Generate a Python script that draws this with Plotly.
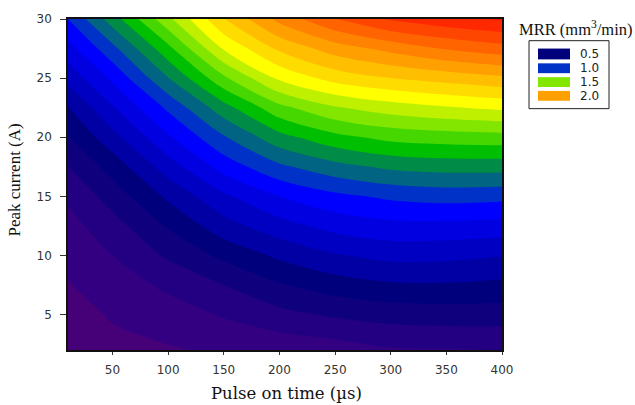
import plotly.graph_objects as go

pulse_on_time = [10, 50, 100, 150, 200, 250, 300, 350, 400]
peak_current = [2, 5, 7.5, 10, 12.5, 15, 17.5, 20, 22.5, 25, 27.5, 30]

mrr_i02 = [0.12, 0.135, 0.14, 0.165, 0.18, 0.20, 0.24, 0.245, 0.25]
mrr_i05 = [0.13, 0.155, 0.205, 0.26, 0.32, 0.365, 0.39, 0.40, 0.40]
mrr_i07 = [0.145, 0.20, 0.27, 0.35, 0.44, 0.50, 0.535, 0.54, 0.525]
mrr_i10 = [0.175, 0.25, 0.365, 0.475, 0.57, 0.64, 0.68, 0.675, 0.655]
mrr_i12 = [0.215, 0.31, 0.46, 0.61, 0.71, 0.785, 0.82, 0.82, 0.81]
mrr_i15 = [0.265, 0.395, 0.57, 0.73, 0.85, 0.925, 0.97, 0.99, 0.98]
mrr_i17 = [0.348, 0.49, 0.70, 0.89, 1.03, 1.115, 1.17, 1.19, 1.19]
mrr_i20 = [0.447, 0.615, 0.835, 1.04, 1.215, 1.32, 1.38, 1.40, 1.41]
mrr_i22 = [0.545, 0.74, 0.97, 1.21, 1.42, 1.54, 1.60, 1.64, 1.67]
mrr_i25 = [0.685, 0.87, 1.145, 1.43, 1.67, 1.79, 1.85, 1.89, 1.93]
mrr_i27 = [0.81, 1.02, 1.32, 1.66, 1.87, 2.0, 2.08, 2.16, 2.21]
mrr_i30 = [0.95, 1.20, 1.525, 1.845, 2.08, 2.245, 2.365, 2.42, 2.46]
mrr = [mrr_i02, mrr_i05, mrr_i07, mrr_i10, mrr_i12, mrr_i15,
       mrr_i17, mrr_i20, mrr_i22, mrr_i25, mrr_i27, mrr_i30]

band_colors = [
    "#460078", "#320080", "#230082", "#0f007d", "#00007d", "#0000a5", "#0000c3",
    "#0000e1", "#0000ff", "#0032c8", "#006482", "#008c46", "#00be00", "#46d700",
    "#82e600", "#bef000", "#ffff00", "#ffdc00", "#ffbe00", "#ffa000", "#ff8200",
    "#ff6400", "#ff4600", "#ff2800", "#ff1400",
]
legend_labels = ["0.5", "1.0", "1.5", "2.0"]
legend_colors = ["#00007d", "#0032c8", "#82e600", "#ffa000"]

n = len(band_colors)
scale = []
for i, c in enumerate(band_colors):
    scale.append([i / n, c])
    scale.append([(i + 1) / n, c])

W, H = 635, 405
L, R, T, B = 68, 502, 14, 350

fig = go.Figure(go.Contour(
    x=pulse_on_time, y=peak_current, z=mrr,
    colorscale=scale, zmin=0.05, zmax=2.55, autocontour=False,
    contours=dict(start=0.05, end=2.55, size=0.1, coloring="fill", showlines=False),
    line=dict(width=0, smoothing=1.0), showscale=False, hoverinfo="skip",
))

shapes = []
annots = []


def px(x):
    return (x - L) / (R - L)


def py(y):
    return (B - y) / (B - T)


shapes.append(dict(type="rect", xref="paper", yref="paper", x0=px(529), x1=px(609),
                   y0=py(105), y1=py(36), line=dict(color="#222222", width=1), fillcolor="white"))
ys = [(44, 55), (59, 69), (73, 83), (87, 97)]
for (y0, y1), c, lab in zip(ys, legend_colors, legend_labels):
    shapes.append(dict(type="rect", xref="paper", yref="paper", x0=px(538), x1=px(570),
                       y0=py(y1), y1=py(y0), line=dict(width=0), fillcolor=c))
    annots.append(dict(text=lab, xref="paper", yref="paper", x=px(578), y=py((y0 + y1) / 2),
                       xanchor="left", yanchor="middle", showarrow=False,
                       font=dict(family="DejaVu Sans", size=12, color="#222222")))
annots.append(dict(text="MRR (mm<sup>3</sup>/min)", xref="paper", yref="paper", x=px(517), y=py(24),
                   xanchor="left", yanchor="middle", showarrow=False,
                   font=dict(family="Liberation Serif", size=16.5, color="#111111")))
annots.append(dict(text="Pulse on time (µs)", xref="paper", yref="paper", x=px(286), y=py(394),
                   xanchor="center", yanchor="middle", showarrow=False,
                   font=dict(family="DejaVu Serif", size=16.5, color="#111111")))
annots.append(dict(text="Peak current (A)", xref="paper", yref="paper", x=px(15), y=py(178),
                   xanchor="center", yanchor="middle", showarrow=False, textangle=-90,
                   font=dict(family="Liberation Serif", size=17, color="#111111")))

tickfont = dict(family="DejaVu Sans", size=12, color="#333333")
fig.update_layout(
    width=W, height=H, autosize=False,
    margin=dict(l=L, r=W - R, t=T, b=H - B, pad=0),
    paper_bgcolor="white", plot_bgcolor="white",
    shapes=shapes, annotations=annots, showlegend=False,
    xaxis=dict(range=[10, 400], tickvals=[50, 100, 150, 200, 250, 300, 350, 400],
               ticks="outside", ticklen=3, tickcolor="#333333", tickfont=tickfont, ticklabelstandoff=5,
               showline=True, linecolor="#111111", linewidth=1.5, mirror=True, showgrid=False, zeroline=False),
    yaxis=dict(range=[2, 30], tickvals=[5, 10, 15, 20, 25, 30],
               ticks="outside", ticklen=6, tickcolor="#333333", tickfont=tickfont, ticklabelstandoff=6,
               showline=True, linecolor="#111111", linewidth=1.5, mirror=True, showgrid=False, zeroline=False),
)
fig.write_html("out.html", config={"displayModeBar": False},
               post_script="document.body.style.margin='0';document.body.style.overflow='hidden';")
